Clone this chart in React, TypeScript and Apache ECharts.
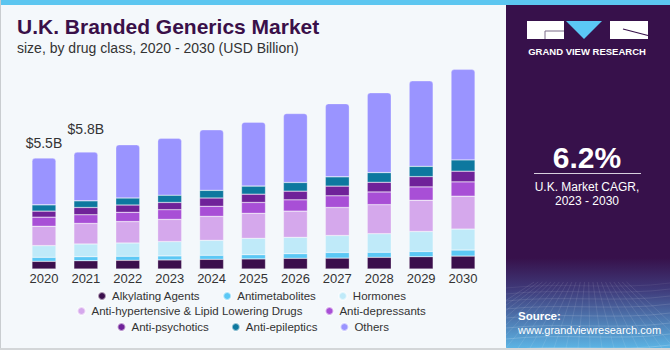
import React, { useEffect, useRef } from "react";
import * as echarts from "echarts";

const years = ["2020", "2021", "2022", "2023", "2024", "2025", "2026", "2027", "2028", "2029", "2030"];

const alkylating = [0.38, 0.41, 0.43, 0.45, 0.48, 0.5, 0.53, 0.54, 0.58, 0.61, 0.64];
const antimetabolites = [0.2, 0.2, 0.2, 0.2, 0.2, 0.21, 0.23, 0.28, 0.25, 0.26, 0.3];
const hormones = [0.58, 0.63, 0.66, 0.71, 0.74, 0.81, 0.81, 0.84, 0.92, 0.99, 1.04];
const antiHypertensive = [0.96, 1.02, 1.06, 1.1, 1.19, 1.24, 1.3, 1.39, 1.44, 1.55, 1.63];
const antiDepressants = [0.45, 0.43, 0.46, 0.48, 0.5, 0.54, 0.56, 0.58, 0.63, 0.66, 0.71];
const antiPsychotics = [0.3, 0.36, 0.36, 0.36, 0.41, 0.41, 0.43, 0.48, 0.48, 0.51, 0.53];
const antiEpileptics = [0.31, 0.33, 0.35, 0.36, 0.38, 0.4, 0.43, 0.46, 0.48, 0.51, 0.56];
const others = [2.32, 2.42, 2.64, 2.82, 3.0, 3.17, 3.42, 3.63, 3.96, 4.24, 4.49];

const seriesNames = [
  "Alkylating Agents",
  "Antimetabolites",
  "Hormones",
  "Anti-hypertensive & Lipid Lowering Drugs",
  "Anti-depressants",
  "Anti-psychotics",
  "Anti-epileptics",
  "Others",
];
const seriesValues = [
  alkylating,
  antimetabolites,
  hormones,
  antiHypertensive,
  antiDepressants,
  antiPsychotics,
  antiEpileptics,
  others,
];

const calloutYears = ["2020", "2021"];
const calloutTotals = [5.5, 5.8];

const cagrText = "6.2%";
const cagrCaption = ["U.K. Market CAGR,", "2023 - 2030"];

const COLORS = ["#3b0f4c", "#5bc8f5", "#bfeaf9", "#d5a8ec", "#a84fd6", "#6f2299", "#0d789f", "#9a94ff"];
const CALLOUT_DISTANCE = [8, 16];
const FONT = "Arial, 'Liberation Sans', sans-serif";

function panelTexture() {
  // decorative perspective grid at the bottom of the side panel
  const items: any[] = [];
  const x0 = 506;
  const x1 = 670;
  const hs = [286, 292, 299, 307, 316, 326, 337, 348];
  hs.forEach((y, i) => {
    items.push({
      type: "bezierCurve",
      shape: { x1: x0, y1: y + 2, x2: x1, y2: y - 3, cpx1: 560, cpy1: y - 4, cpx2: 620, cpy2: y + 4 },
      style: { stroke: "rgba(255,255,255," + (0.1 + i * 0.025) + ")", lineWidth: 0.7, fill: null },
      silent: true,
    });
  });
  for (let k = -6; k <= 16; k++) {
    const bx = x0 + k * 12;
    const tx = 588 + (bx - 588) * 0.35;
    items.push({
      type: "line",
      shape: { x1: tx, y1: 282, x2: bx, y2: 348 },
      style: { stroke: "rgba(255,255,255,0.14)", lineWidth: 0.7 },
      silent: true,
    });
  }
  return {
    type: "group",
    children: items,
    clipPath: { type: "rect", shape: { x: 506, y: 280, width: 164, height: 68 } },
  };
}

export default function App() {
  const ref = useRef<HTMLDivElement>(null);

  useEffect(() => {
    document.body.style.margin = "0";
    const chart = echarts.init(ref.current!, null, { renderer: "svg" });

    const series = seriesNames.map((name, si) => {
      const isTop = si === seriesNames.length - 1;
      const data = seriesValues[si].map((v, i) => {
        if (!isTop) return v;
        const ci = calloutYears.indexOf(years[i]);
        if (ci < 0) return v;
        return {
          value: v,
          label: {
            show: true,
            position: "top",
            distance: CALLOUT_DISTANCE[ci],
            formatter: "$" + calloutTotals[ci].toFixed(1) + "B",
            fontSize: 14,
            color: "#333333",
            fontFamily: FONT,
          },
        };
      });
      return {
        name,
        type: "bar",
        stack: "total",
        barWidth: 24,
        data,
        itemStyle: {
          color: COLORS[si],
          borderColor: "rgba(255,255,255,0.55)",
          borderWidth: 0.5,
          borderRadius: isTop ? [3, 3, 0, 0] : 0,
        },
        emphasis: { disabled: true },
      };
    });

    const legendCommon = {
      icon: "circle",
      itemWidth: 10,
      itemHeight: 8,
      itemGap: 22,
      padding: 0,
      selectedMode: false,
      textStyle: { fontSize: 11.5, color: "#333333", fontFamily: FONT },
    };

    const option = {
      animation: false,
      backgroundColor: "#f4f8fb",
      grid: { left: 23, right: 186, top: 27, bottom: 81, containLabel: false },
      xAxis: {
        type: "category",
        data: years,
        axisLine: { show: false },
        axisTick: { show: false },
        axisLabel: { fontSize: 13, color: "#333333", margin: 3, fontFamily: FONT },
      },
      yAxis: {
        type: "value",
        min: 0,
        max: 12,
        show: false,
        splitLine: { show: false },
      },
      legend: [
        { ...legendCommon, data: seriesNames.slice(0, 3), left: 97, top: 290 },
        { ...legendCommon, data: seriesNames.slice(3, 5), left: 76.5, top: 305 },
        { ...legendCommon, data: seriesNames.slice(5, 8), left: 116.5, top: 321 },
      ],
      series,
      graphic: [
        // right panel
        { type: "rect", shape: { x: 506, y: 0, width: 164, height: 348 }, style: { fill: "#37114b" }, silent: true },
        {
          type: "rect",
          shape: { x: 506, y: 258, width: 164, height: 90 },
          style: {
            fill: new echarts.graphic.LinearGradient(0, 0, 0, 1, [
              { offset: 0, color: "rgba(55,17,75,1)" },
              { offset: 0.35, color: "#3f3a7a" },
              { offset: 1, color: "#5cb4e4" },
            ]),
          },
          silent: true,
        },
        panelTexture(),
        // top strip & borders
        { type: "rect", shape: { x: 0, y: 0, width: 670, height: 5 }, style: { fill: "#5cc6f0" }, silent: true },
        { type: "rect", shape: { x: 0, y: 0, width: 1, height: 350 }, style: { fill: "#c9cdd0" }, silent: true },
        { type: "rect", shape: { x: 0, y: 348, width: 670, height: 2 }, style: { fill: "#d3d6d8" }, silent: true },
        // title
        {
          type: "text",
          left: 17,
          top: 16,
          style: {
            text: "U.K. Branded Generics Market",
            font: "bold 21px " + FONT,
            fill: "#3a1049",
          },
          silent: true,
        },
        {
          type: "text",
          left: 17,
          top: 41,
          style: {
            text: "size, by drug class, 2020 - 2030 (USD Billion)",
            font: "14px " + FONT,
            fill: "#333333",
          },
          silent: true,
        },
        // logo
        { type: "rect", shape: { x: 527, y: 21, width: 37, height: 18 }, style: { fill: "#ffffff" }, silent: true },
        {
          type: "polyline",
          shape: { points: [[545, 39], [545, 31], [564, 31]] },
          style: { stroke: "#7a6a88", lineWidth: 1, fill: null },
          silent: true,
        },
        {
          type: "polygon",
          shape: { points: [[566, 21], [602, 21], [584, 39]] },
          style: { fill: "#5bc8f5" },
          silent: true,
        },
        { type: "rect", shape: { x: 610, y: 21, width: 38, height: 18 }, style: { fill: "#ffffff" }, silent: true },
        {
          type: "line",
          shape: { x1: 623, y1: 29, x2: 648, y2: 35.5 },
          style: { stroke: "#37114b", lineWidth: 1.2 },
          silent: true,
        },
        {
          type: "text",
          x: 587,
          y: 51.5,
          style: {
            text: "GRAND VIEW RESEARCH",
            font: "bold 9.5px " + FONT,
            fill: "#ffffff",
            align: "center",
            verticalAlign: "middle",
          },
          silent: true,
        },
        // CAGR
        {
          type: "text",
          x: 587,
          y: 157,
          style: {
            text: cagrText,
            font: "bold 30px " + FONT,
            fill: "#ffffff",
            align: "center",
            verticalAlign: "middle",
          },
          silent: true,
        },
        {
          type: "line",
          shape: { x1: 534, y1: 173.5, x2: 641, y2: 173.5 },
          style: { stroke: "#d8d0de", lineWidth: 1.2 },
          silent: true,
        },
        {
          type: "text",
          x: 587,
          y: 187,
          style: {
            text: cagrCaption[0],
            font: "12px " + FONT,
            fill: "#ffffff",
            align: "center",
            verticalAlign: "middle",
          },
          silent: true,
        },
        {
          type: "text",
          x: 587,
          y: 201,
          style: {
            text: cagrCaption[1],
            font: "12px " + FONT,
            fill: "#ffffff",
            align: "center",
            verticalAlign: "middle",
          },
          silent: true,
        },
        // source
        {
          type: "text",
          x: 518,
          y: 316,
          style: {
            text: "Source:",
            font: "bold 11.5px " + FONT,
            fill: "#ffffff",
            align: "left",
            verticalAlign: "middle",
          },
          silent: true,
        },
        {
          type: "text",
          x: 518,
          y: 330,
          style: {
            text: "www.grandviewresearch.com",
            font: "11px " + FONT,
            fill: "#ffffff",
            align: "left",
            verticalAlign: "middle",
          },
          silent: true,
        },
      ],
    };

    chart.setOption(option as any);
    return () => chart.dispose();
  }, []);

  return <div ref={ref} style={{ width: 670, height: 350 }} />;
}
